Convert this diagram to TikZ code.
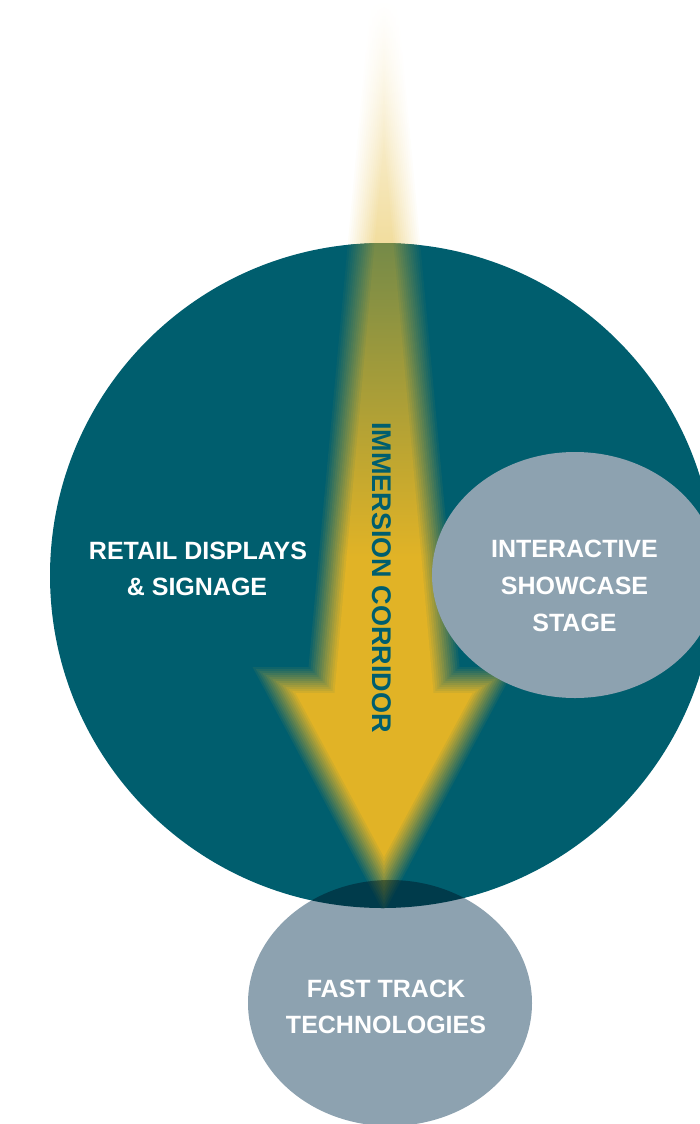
\documentclass[tikz,border=0pt]{standalone}
\usepackage{fontspec}
\setmainfont{Liberation Sans}
\usetikzlibrary{shapes.geometric}
\definecolor{teal0}{HTML}{005E6E}
\definecolor{greyc}{HTML}{8DA2B0}
\definecolor{gold}{HTML}{E1B326}
\begin{document}
\begin{tikzpicture}[x=1pt,y=-1pt,
  lbl/.style={text=white,font=\fontsize{25}{28}\selectfont\bfseries,inner sep=0pt,anchor=base},
  blob/.style={ellipse,fill=greyc,draw=none,inner sep=0pt}]
\useasboundingbox (0,0) rectangle (699,1124);
% main circle
\node[circle,fill=teal0,draw=none,inner sep=0pt,minimum size=665pt] (big) at (382.5,575.5) {};
% arrow (soft edged, built from nested layers)
\def\cx{384}\def\ys{680}\def\W{110}\def\yt{885}\def\hs{62.5}
\foreach \k in {0,...,13}{
  \pgfmathsetmacro{\s}{13-26*\k/13}
  \pgfmathsetmacro{\e}{100*(\k+1)/14}
  \pgfmathsetmacro{\eA}{0.46*\e}
  \pgfmathsetmacro{\eB}{0.52*\e}
  \pgfmathsetmacro{\ya}{-5-\s*683/\hs}
  \pgfmathsetmacro{\xsl}{\cx-\hs-\s}
  \pgfmathsetmacro{\xsr}{\cx+\hs+\s}
  \pgfmathsetmacro{\xwl}{\cx-\W-1.655*\s}
  \pgfmathsetmacro{\xwr}{\cx+\W+1.655*\s}
  \pgfmathsetmacro{\yw}{\ys-\s}
  \pgfmathsetmacro{\ytip}{\yt+2.145*\s}
  \begin{scope}
    \begin{scope}[even odd rule]
      \clip (-10,-10) rectangle (710,320) (big.center) circle (332.5pt);
      \clip (\cx,\ya) -- (\xsr,\yw) -- (\xwr,\yw) -- (\cx,\ytip) -- (\xwl,\yw) -- (\xsl,\yw) -- cycle;
      \shade[nonzero rule,top color=white,bottom color=gold!\eA!white] (0,0) rectangle (699,250);
    \end{scope}
  \end{scope}
  \begin{scope}
    \clip (big.center) circle (332.5pt);
    \clip (\cx,\ya) -- (\xsr,\yw) -- (\xwr,\yw) -- (\cx,\ytip) -- (\xwl,\yw) -- (\xsl,\yw) -- cycle;
    \fill[gold!\e!teal0] (0,550) rectangle (699,920);
    \shade[top color=gold!\eB!teal0,middle color=gold!\e!teal0,bottom color=gold!\e!teal0] (0,243) rectangle (699,557);
  \end{scope}
}
% interactive stage
\node[blob,minimum width=286pt,minimum height=246pt] (stage) at (575,575) {};
% fast track (multiplied over the circle)
\begin{scope}[blend mode=multiply]
\node[blob,minimum width=284pt,minimum height=246pt] (fast) at (390,1003) {};
\end{scope}
% labels
\node[lbl] (r1) at (198,559) {RETAIL DISPLAYS};
\node[lbl] (r2) at (197,595) {\& SIGNAGE};
\node[lbl] (s1) at (574.5,557) {INTERACTIVE};
\node[lbl] (s2) at (574.5,594) {SHOWCASE};
\node[lbl] (s3) at (574.5,631) {STAGE};
\node[lbl] (f1) at (386,997) {FAST TRACK};
\node[lbl] (f2) at (386,1033) {TECHNOLOGIES};
\node[rotate=-90,text=teal0,font=\fontsize{27}{30}\selectfont\bfseries,inner sep=0pt] (corr) at (382,577.5) {IMMERSION CORRIDOR};
\end{tikzpicture}
\end{document}
